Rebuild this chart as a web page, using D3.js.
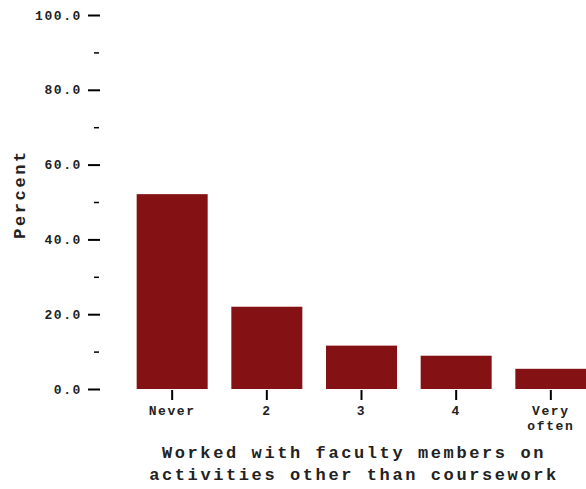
<!DOCTYPE html>
<html>
<head>
<meta charset="utf-8">
<script src="https://cdn.jsdelivr.net/npm/d3@7"></script>
<style>
  body { margin: 0; background: #fff; }
  text { font-family: "Liberation Mono", "Courier New", monospace; font-weight: bold; fill: #222; }
</style>
</head>
<body>
<svg id="chart" width="586" height="489"></svg>
<script>
const categories = ["Never", "2", "3", "4", "Very often"];
const percents = [52.1, 22.0, 11.6, 8.9, 5.4];
const majorTicks = [0, 20, 40, 60, 80, 100];
const minorTicks = [10, 30, 50, 70, 90];
const xTitleLines = ["Worked with faculty members on", "activities other than coursework"];
const yTitle = "Percent";

const svg = d3.select("#chart");
const x = d3.scaleBand().domain(categories).range([113, 610]).paddingInner(0.25).paddingOuter(0.25);
const y = d3.scaleLinear().domain([0, 100]).range([389, 15]);

svg.selectAll("rect.bar").data(categories).join("rect")
  .attr("class", "bar")
  .attr("x", d => x(d))
  .attr("width", x.bandwidth())
  .attr("y", (d, i) => y(percents[i]))
  .attr("height", (d, i) => y(0) - y(percents[i]))
  .attr("fill", "#841214");

// Y axis major
const yAxis = svg.append("g").attr("transform", "translate(100,0)")
  .call(d3.axisLeft(y).tickValues(majorTicks).tickSize(12).tickPadding(6).tickFormat(d3.format(".1f")));
yAxis.select(".domain").remove();
yAxis.selectAll(".tick line").attr("stroke", "#000").attr("stroke-width", 2);
yAxis.selectAll(".tick text").style("font-size", "13px").style("letter-spacing", "1.6px");

// Y axis minor
const yMinor = svg.append("g").attr("transform", "translate(100,0)")
  .call(d3.axisLeft(y).tickValues(minorTicks).tickSize(6).tickFormat(""));
yMinor.select(".domain").remove();
yMinor.selectAll(".tick line").attr("stroke", "#000").attr("stroke-width", 1.5).attr("x2", -6).attr("x1", -1);

// X axis
const xAxis = svg.append("g").attr("transform", "translate(0,390)")
  .call(d3.axisBottom(x).tickSize(10).tickPadding(5).tickFormat(""));
xAxis.select(".domain").remove();
xAxis.selectAll(".tick line").attr("stroke", "#000").attr("stroke-width", 2);
xAxis.selectAll(".tick").each(function(d) {
  const words = d.split(" ");
  const t = d3.select(this).append("text")
    .attr("text-anchor", "middle")
    .style("font-size", "13px").style("letter-spacing", "1.6px")
    .attr("y", 25);
  words.forEach((w, i) => {
    t.append("tspan").attr("x", 0).attr("dy", i === 0 ? 0 : 15).text(w);
  });
});

// X title
const xt = svg.append("text").attr("text-anchor", "middle")
  .attr("transform", "translate(354,458)")
  .style("font-size", "17px").style("letter-spacing", "2.6px");
xTitleLines.forEach((l, i) => {
  xt.append("tspan").attr("x", 0).attr("dy", i === 0 ? 0 : 22).text(l);
});

// Y title
svg.append("text").attr("text-anchor", "middle")
  .attr("transform", "translate(25,194) rotate(-90)")
  .style("font-size", "17px").style("letter-spacing", "2.6px")
  .text(yTitle);
</script>
</body>
</html>
